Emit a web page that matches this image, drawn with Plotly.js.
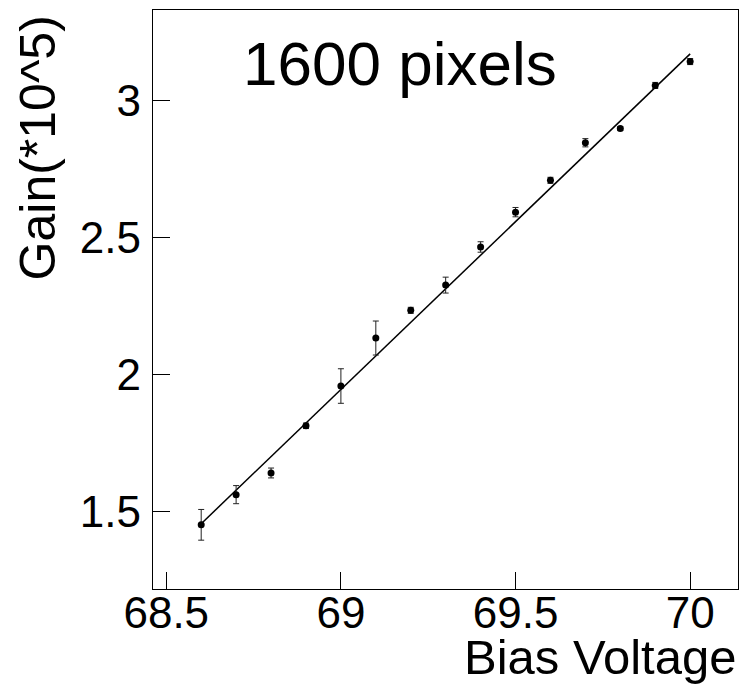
<!DOCTYPE html>
<html>
<head>
<meta charset="utf-8">
<script src="https://cdn.plot.ly/plotly-3.0.1.min.js"></script>
<style>
  html, body { margin: 0; padding: 0; background: #fff; }
  #chart { width: 744px; height: 696px; }
</style>
</head>
<body>
<div id="chart"></div>
<script>
// Data
const biasVoltage = [68.6, 68.7, 68.8, 68.9, 69.0, 69.1, 69.2, 69.3, 69.4, 69.5, 69.6, 69.7, 69.8, 69.9, 70.0];
const gain = [1.452, 1.562, 1.641, 1.813, 1.958, 2.133, 2.234, 2.326, 2.465, 2.592, 2.708, 2.845, 2.897, 3.054, 3.141];
const gainErr = [0.056, 0.033, 0.018, 0.010, 0.063, 0.062, 0.011, 0.029, 0.019, 0.017, 0.011, 0.015, 0.007, 0.011, 0.011];
const fitX = [68.6, 70.0];
const fitY = [1.456, 3.169];
const xTicks = [68.5, 69, 69.5, 70];
const xTickText = ["68.5", "69", "69.5", "70"];
const yTicks = [1.5, 2, 2.5, 3];
const yTickText = ["1.5", "2", "2.5", "3"];
const titleText = "1600 pixels";
const xTitle = "Bias Voltage";
const yTitle = "Gain(*10^5)";

const font = "Liberation Sans, Arial, sans-serif";

const traces = [
  {
    x: fitX, y: fitY, type: "scatter", mode: "lines",
    line: { color: "#000", width: 1.5 },
    hoverinfo: "skip", showlegend: false
  },
  {
    x: biasVoltage, y: gain, type: "scatter", mode: "markers",
    marker: { color: "#000", size: 7, symbol: "circle" },
    error_y: { type: "data", array: gainErr, visible: true, color: "#222", thickness: 1, width: 3 },
    showlegend: false
  }
];

const layout = {
  width: 744, height: 696,
  margin: { l: 153, r: 6, t: 10, b: 107 },
  paper_bgcolor: "#fff", plot_bgcolor: "#fff",
  font: { family: font, color: "#000" },
  showlegend: false,
  xaxis: {
    range: [68.462, 70.137],
    tickvals: xTicks, ticktext: xTickText,
    ticks: "inside", ticklen: 17, tickwidth: 1, tickcolor: "#000",
    ticklabelstandoff: -15,
    showline: true, mirror: true, linecolor: "#000", linewidth: 1.2,
    showgrid: false, zeroline: false,
    tickfont: { family: font, size: 44, color: "#000" }
  },
  yaxis: {
    range: [1.218, 3.329],
    tickvals: yTicks, ticktext: yTickText,
    ticks: "inside", ticklen: 17, tickwidth: 1, tickcolor: "#000",
    ticklabelstandoff: 2,
    showline: true, mirror: true, linecolor: "#000", linewidth: 1.2,
    showgrid: false, zeroline: false,
    tickfont: { family: font, size: 44, color: "#000" }
  },
  annotations: [
    {
      text: titleText, xref: "paper", yref: "paper",
      x: 0.4225, y: 0.9075, xanchor: "center", yanchor: "middle",
      showarrow: false, font: { family: font, size: 62, color: "#000" }
    },
    {
      text: xTitle, xref: "paper", yref: "paper",
      x: 1.0, y: -0.0665, xanchor: "right", yanchor: "top",
      showarrow: false, font: { family: font, size: 49, color: "#000" }
    },
    {
      text: yTitle, xref: "paper", yref: "paper",
      x: -0.248, y: 0.9948, xanchor: "left", yanchor: "top",
      textangle: -90,
      showarrow: false, font: { family: font, size: 50, color: "#000" }
    }
  ]
};

Plotly.newPlot("chart", traces, layout, { displayModeBar: false, staticPlot: true });
</script>
</body>
</html>
